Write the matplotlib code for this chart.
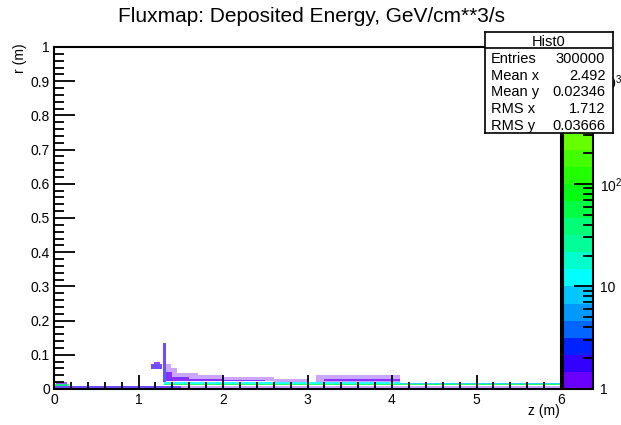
import numpy as np
import matplotlib
matplotlib.use("Agg")
import matplotlib.pyplot as plt
from matplotlib.colors import ListedColormap, LogNorm
from matplotlib.ticker import MultipleLocator, FixedLocator, FuncFormatter, NullFormatter
from matplotlib.cm import ScalarMappable

plt.rcParams['font.family'] = ['Liberation Sans', 'DejaVu Sans']
plt.rcParams['mathtext.default'] = 'regular'

# ---- data: 2D histogram regions (z range, r range, bin content) ----
# densely populated regions
dense_z0 = [0.00, 0.02, 1.15, 1.18, 1.29, 1.30, 1.32, 1.40, 1.60, 2.00, 3.20]
dense_z1 = [1.50, 0.15, 1.28, 1.25, 1.32, 1.32, 1.40, 1.60, 2.00, 2.50, 4.10]
dense_r0 = [0.003, 0.010, 0.058, 0.072, 0.020, 0.020, 0.021, 0.021, 0.021, 0.021, 0.021]
dense_r1 = [0.010, 0.020, 0.072, 0.080, 0.135, 0.060, 0.050, 0.036, 0.030, 0.027, 0.031]
dense_val = [1.6, 1.2, 1.6, 1.3, 1.8, 3.0, 1.2, 1.1, 1.0, 1.0, 1.3]

# high-occupancy thin layers (beam pipe surfaces)
layer_z0 = [0.00, 1.30, 1.30, 4.10]
layer_z1 = [0.18, 6.00, 4.10, 6.00]
layer_r0 = [0.010, 0.012, 0.016, 0.016]
layer_r1 = [0.014, 0.016, 0.020, 0.019]
layer_val = [40.0, 60.0, 12.0, 8.0]

# sparsely populated regions
sparse_z0 = [1.32, 1.38, 1.45, 1.70, 2.00, 2.60, 3.10, 1.50]
sparse_z1 = [1.38, 1.45, 1.70, 2.00, 2.60, 3.00, 4.10, 6.00]
sparse_r0 = [0.021, 0.021, 0.021, 0.021, 0.021, 0.020, 0.020, 0.003]
sparse_r1 = [0.075, 0.060, 0.046, 0.040, 0.035, 0.029, 0.040, 0.011]
sparse_val = [1.0, 1.0, 1.0, 1.0, 1.0, 1.0, 1.0, 1.0]

# stats box
stats_title = "Hist0"
stats_names = ["Entries", "Mean x", "Mean y", "RMS x", "RMS y"]
stats_values = ["300000", "2.492", "0.02346", "1.712", "0.03666"]

# colour scale
z_min, z_max = 1.0, 10 ** (20 / 6)
cbar_ticks = [1, 10, 100, 1000]
cbar_labels = ["1", "10", "$10^{2}$", "$10^{3}$"]

palette = ["#6a00ff", "#3300ff", "#0022ff", "#0066ff", "#0099ff", "#00c8ff",
           "#00ffff", "#00ffcc", "#00ff99", "#00ff77", "#00ff44", "#00ff11",
           "#22ff00", "#44ff00", "#66ff00", "#88ff00", "#a0ff00", "#b8ff00",
           "#ccff00", "#e0ff00"]
cmap = ListedColormap(palette)
cmap.set_bad((0, 0, 0, 0))
norm = LogNorm(vmin=z_min, vmax=z_max)

# binning
z_edges = np.linspace(0, 6, 601)
r_edges = np.linspace(0, 1, 501)
zc = 0.5 * (z_edges[:-1] + z_edges[1:])
rc = 0.5 * (r_edges[:-1] + r_edges[1:])


def build(z0s, z1s, r0s, r1s, vals):
    g = np.full((len(rc), len(zc)), np.nan)
    for z0, z1, r0, r1, v in zip(z0s, z1s, r0s, r1s, vals):
        zm = (zc >= z0) & (zc < z1)
        rm = (rc >= r0) & (rc < r1)
        g[np.ix_(rm, zm)] = v
    return np.ma.masked_invalid(g)


W, H = 621, 425
fig = plt.figure(figsize=(W / 100, H / 100), dpi=100)
ax = fig.add_axes([54 / W, 1 - 389 / H, 507 / W, 342 / H])

ax.pcolormesh(z_edges, r_edges, build(sparse_z0, sparse_z1, sparse_r0, sparse_r1, sparse_val),
              cmap=cmap, norm=norm, alpha=0.35, shading='flat')
ax.pcolormesh(z_edges, r_edges, build(dense_z0, dense_z1, dense_r0, dense_r1, dense_val),
              cmap=cmap, norm=norm, alpha=0.7, shading='flat')
ax.pcolormesh(z_edges, r_edges, build(layer_z0, layer_z1, layer_r0, layer_r1, layer_val),
              cmap=cmap, norm=norm, alpha=0.85, shading='flat')

ax.set_xlim(0, 6)
ax.set_ylim(0, 1)
ax.xaxis.set_major_locator(MultipleLocator(1))
ax.xaxis.set_minor_locator(MultipleLocator(0.2))
ax.yaxis.set_major_locator(MultipleLocator(0.1))
ax.yaxis.set_minor_locator(MultipleLocator(0.02))
fmt = FuncFormatter(lambda v, p: "%g" % round(v, 3))
ax.xaxis.set_major_formatter(fmt)
ax.yaxis.set_major_formatter(fmt)
ax.tick_params(axis='x', which='major', direction='in', length=10, width=1.3, labelsize=10, pad=3)
ax.tick_params(axis='x', which='minor', direction='in', length=5, width=1.3)
ax.tick_params(axis='y', which='major', direction='in', length=15, width=1.3, labelsize=10, pad=3)
ax.tick_params(axis='y', which='minor', direction='in', length=7.5, width=1.3)
ax.tick_params(top=False, right=False, which='both')
for s in ax.spines.values():
    s.set_linewidth(1.5)

fig.text(560 / W, 1 - 411 / H, "z (m)", ha='right', va='center', fontsize=10)
fig.text(20 / W, 1 - 43 / H, "r (m)", ha='center', va='top', rotation=90, fontsize=10)
fig.text(0.502, 1 - 16 / H, "Fluxmap: Deposited Energy, GeV/cm**3/s", ha='center', va='center', fontsize=15)

# colour bar
cax = fig.add_axes([563 / W, 1 - 389 / H, 30 / W, 342 / H])
cb = fig.colorbar(ScalarMappable(norm=norm, cmap=cmap), cax=cax)
cb.outline.set_linewidth(1.5)
cax.yaxis.set_ticks_position('right')
cax.yaxis.set_major_locator(FixedLocator(cbar_ticks))
cax.set_yticklabels(cbar_labels)
minor = [m * 10 ** k for k in range(0, 4) for m in range(2, 10) if m * 10 ** k < z_max]
cax.yaxis.set_minor_locator(FixedLocator(minor))
cax.yaxis.set_minor_formatter(NullFormatter())
cax.tick_params(which='major', direction='in', length=14, width=1.3, labelsize=10, pad=5)
cax.tick_params(which='minor', direction='in', length=7, width=1.3)

# stats box
sax = fig.add_axes([485 / W, 1 - 133 / H, 128 / W, 101 / H])
sax.set_zorder(10)
sax.set_facecolor('white')
sax.set_xlim(0, 1)
sax.set_ylim(0, 1)
sax.set_xticks([])
sax.set_yticks([])
for s in sax.spines.values():
    s.set_linewidth(1.2)
hy = (133 - 47.7) / 101
sax.plot([0, 1], [hy, hy], color='black', lw=1.2)
sax.text(0.5, (133 - 41.5) / 101, stats_title, ha='center', va='center', fontsize=10.5)
row_y = [59, 75.5, 92, 109, 126]
for name, val, y in zip(stats_names, stats_values, row_y):
    fy = (133 - y) / 101
    sax.text(0.045, fy, name, ha='left', va='center', fontsize=10.5)
    sax.text(0.94, fy, val, ha='right', va='center', fontsize=10.5)

fig.savefig("out.png", dpi=100)
